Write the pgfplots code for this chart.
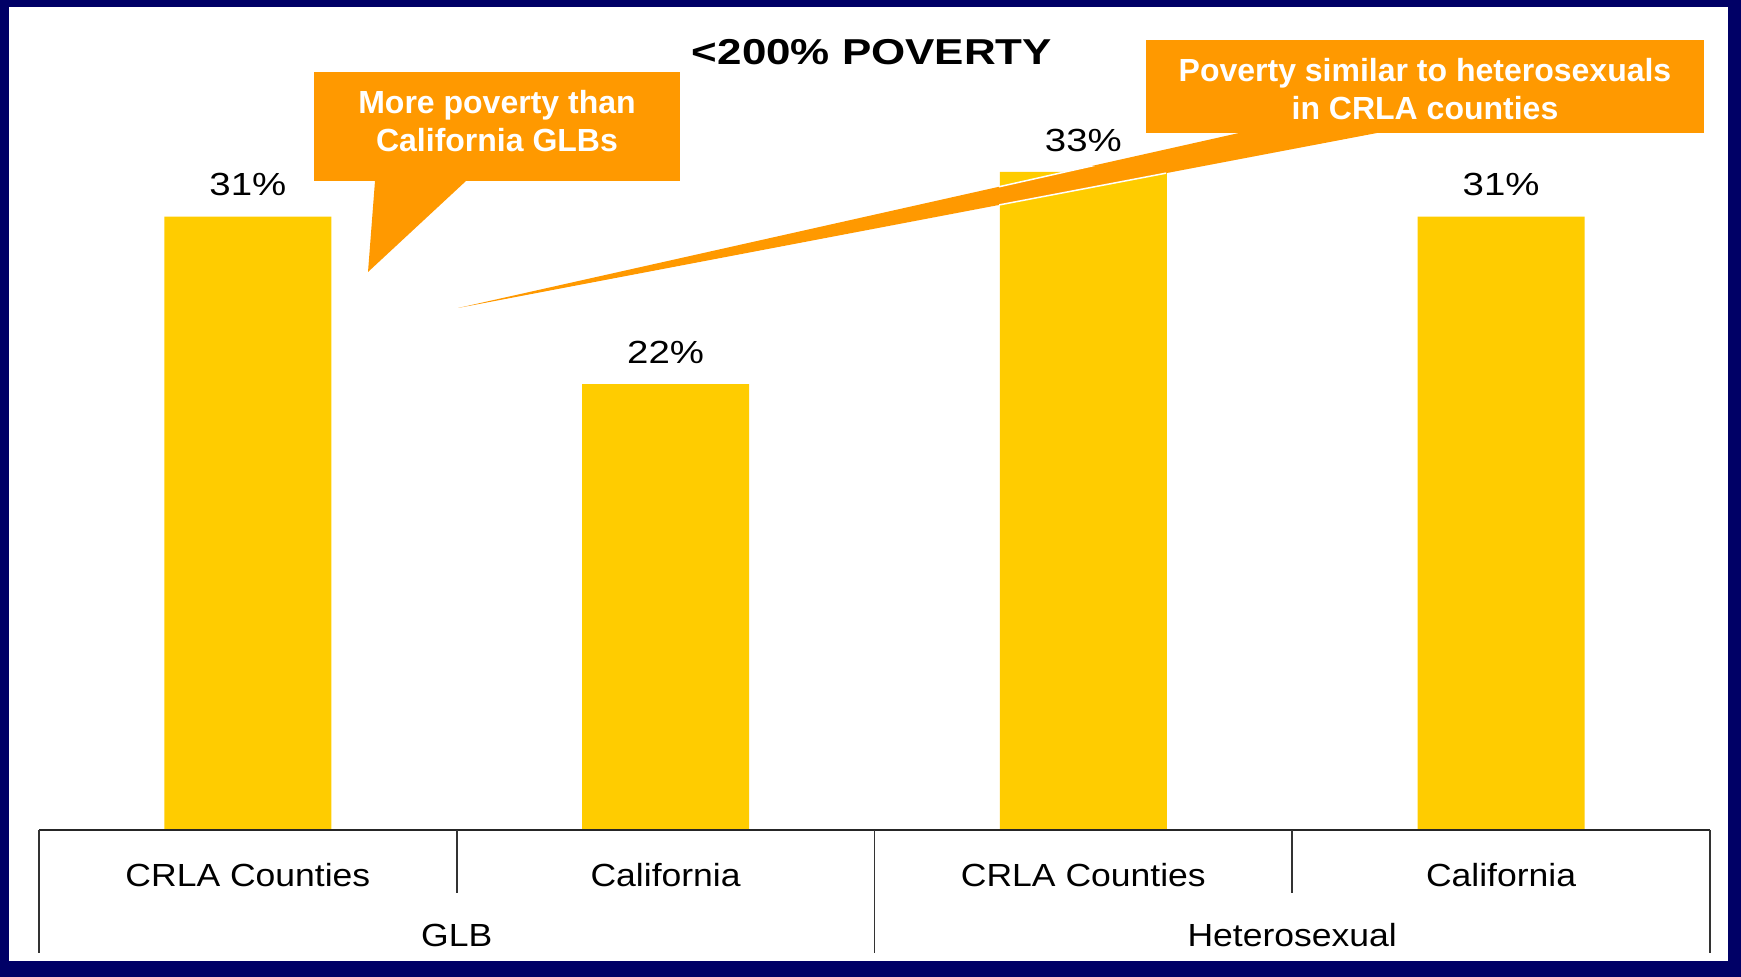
\documentclass[border=0pt]{standalone}
\usepackage{fontspec}
\usepackage{pgfplots}
\pgfplotsset{compat=1.18}
\setmainfont{Liberation Sans}
\newfontfamily\valfont[FakeStretch=1.2]{Liberation Sans}
\newfontfamily\catfont[FakeStretch=1.11]{Liberation Sans}
\newfontfamily\titfont[FakeStretch=1.22]{Liberation Sans}

\definecolor{navy}{HTML}{000066}
\definecolor{baryellow}{HTML}{FFCC00}
\definecolor{calloutorange}{HTML}{FF9900}

\begin{document}
\begin{tikzpicture}[x=1pt,y=1pt]
\useasboundingbox (0,0) rectangle (1741,977);
% frame
\fill[navy] (0,0) rectangle (1741,977);
\fill[white] (9,16) rectangle (1728,970);

\begin{axis}[
    at={(39pt,146.5pt)}, anchor=south west,
    scale only axis,
    width=1671pt, height=695.45pt,
    xmin=-0.5, xmax=3.5,
    ymin=0, ymax=35,
    ybar, bar width=167pt,
    axis x line*=bottom, axis y line=none,
    axis line style={draw=none},
    xtick={0,1,2,3},
    xticklabels={CRLA Counties, California, CRLA Counties, California},
    major tick length=0pt,
    xticklabel style={anchor=center, yshift=-44.5pt, font=\catfont\fontsize{32}{36}\selectfont},
    ytick=\empty,
    clip=false,
    point meta=explicit symbolic,
    nodes near coords,
    nodes near coords style={anchor=south, inner sep=0pt, yshift=20pt,
        font=\valfont\fontsize{32}{36}\selectfont, text=black},
]
\addplot[fill=baryellow, draw=none] coordinates {
    (0,30.9) [31\%]
    (1,22.47) [22\%]
    (2,33.14) [33\%]
    (3,30.9) [31\%]
};
% category table lines
\draw[line width=2pt, black!85] (axis cs:-0.5,0) -- (axis cs:3.5,0);
\draw[line width=1.8pt, black!80] (axis cs:-0.5,0) -- ([yshift=-122.5pt]axis cs:-0.5,0);
\draw[line width=1.8pt, black!80] (axis cs:1.5,0) -- ([yshift=-122.5pt]axis cs:1.5,0);
\draw[line width=1.8pt, black!80] (axis cs:3.5,0) -- ([yshift=-122.5pt]axis cs:3.5,0);
\draw[line width=1.8pt, black!80] (axis cs:0.5,0) -- ([yshift=-62.5pt]axis cs:0.5,0);
\draw[line width=1.8pt, black!80] (axis cs:2.5,0) -- ([yshift=-62.5pt]axis cs:2.5,0);
\node[font=\catfont\fontsize{32}{36}\selectfont] at ([yshift=-104.5pt]axis cs:0.5,0) {GLB};
\node[font=\catfont\fontsize{32}{36}\selectfont] at ([yshift=-104.5pt]axis cs:2.5,0) {Heterosexual};
\end{axis}

% title
\node[font=\titfont\bfseries\fontsize{36}{40}\selectfont] at (872,925) {<200\% POVERTY};

% callout 1
\fill[calloutorange] (375,796) -- (368,705) -- (466,796) -- cycle;
\fill[calloutorange] (314,796) rectangle (680,905);
\node[align=center, text=white, font=\bfseries\fontsize{32}{38}\selectfont] at (497,856)
    {More poverty than\\California GLBs};

% callout 2
\fill[calloutorange] (1239,844) -- (458,669) -- (1377,844) -- cycle;
\begin{scope}
  \clip (999,146.5) rectangle (1166,810);
  \draw[white, line width=1.5pt] (1239,844) -- (458,669) -- (1377,844);
\end{scope}
\fill[calloutorange] (1146,844) rectangle (1704,937);
\node[align=center, text=white, font=\bfseries\fontsize{32}{38}\selectfont] at (1425,888)
    {Poverty similar to heterosexuals\\in CRLA counties};
\end{tikzpicture}
\end{document}
